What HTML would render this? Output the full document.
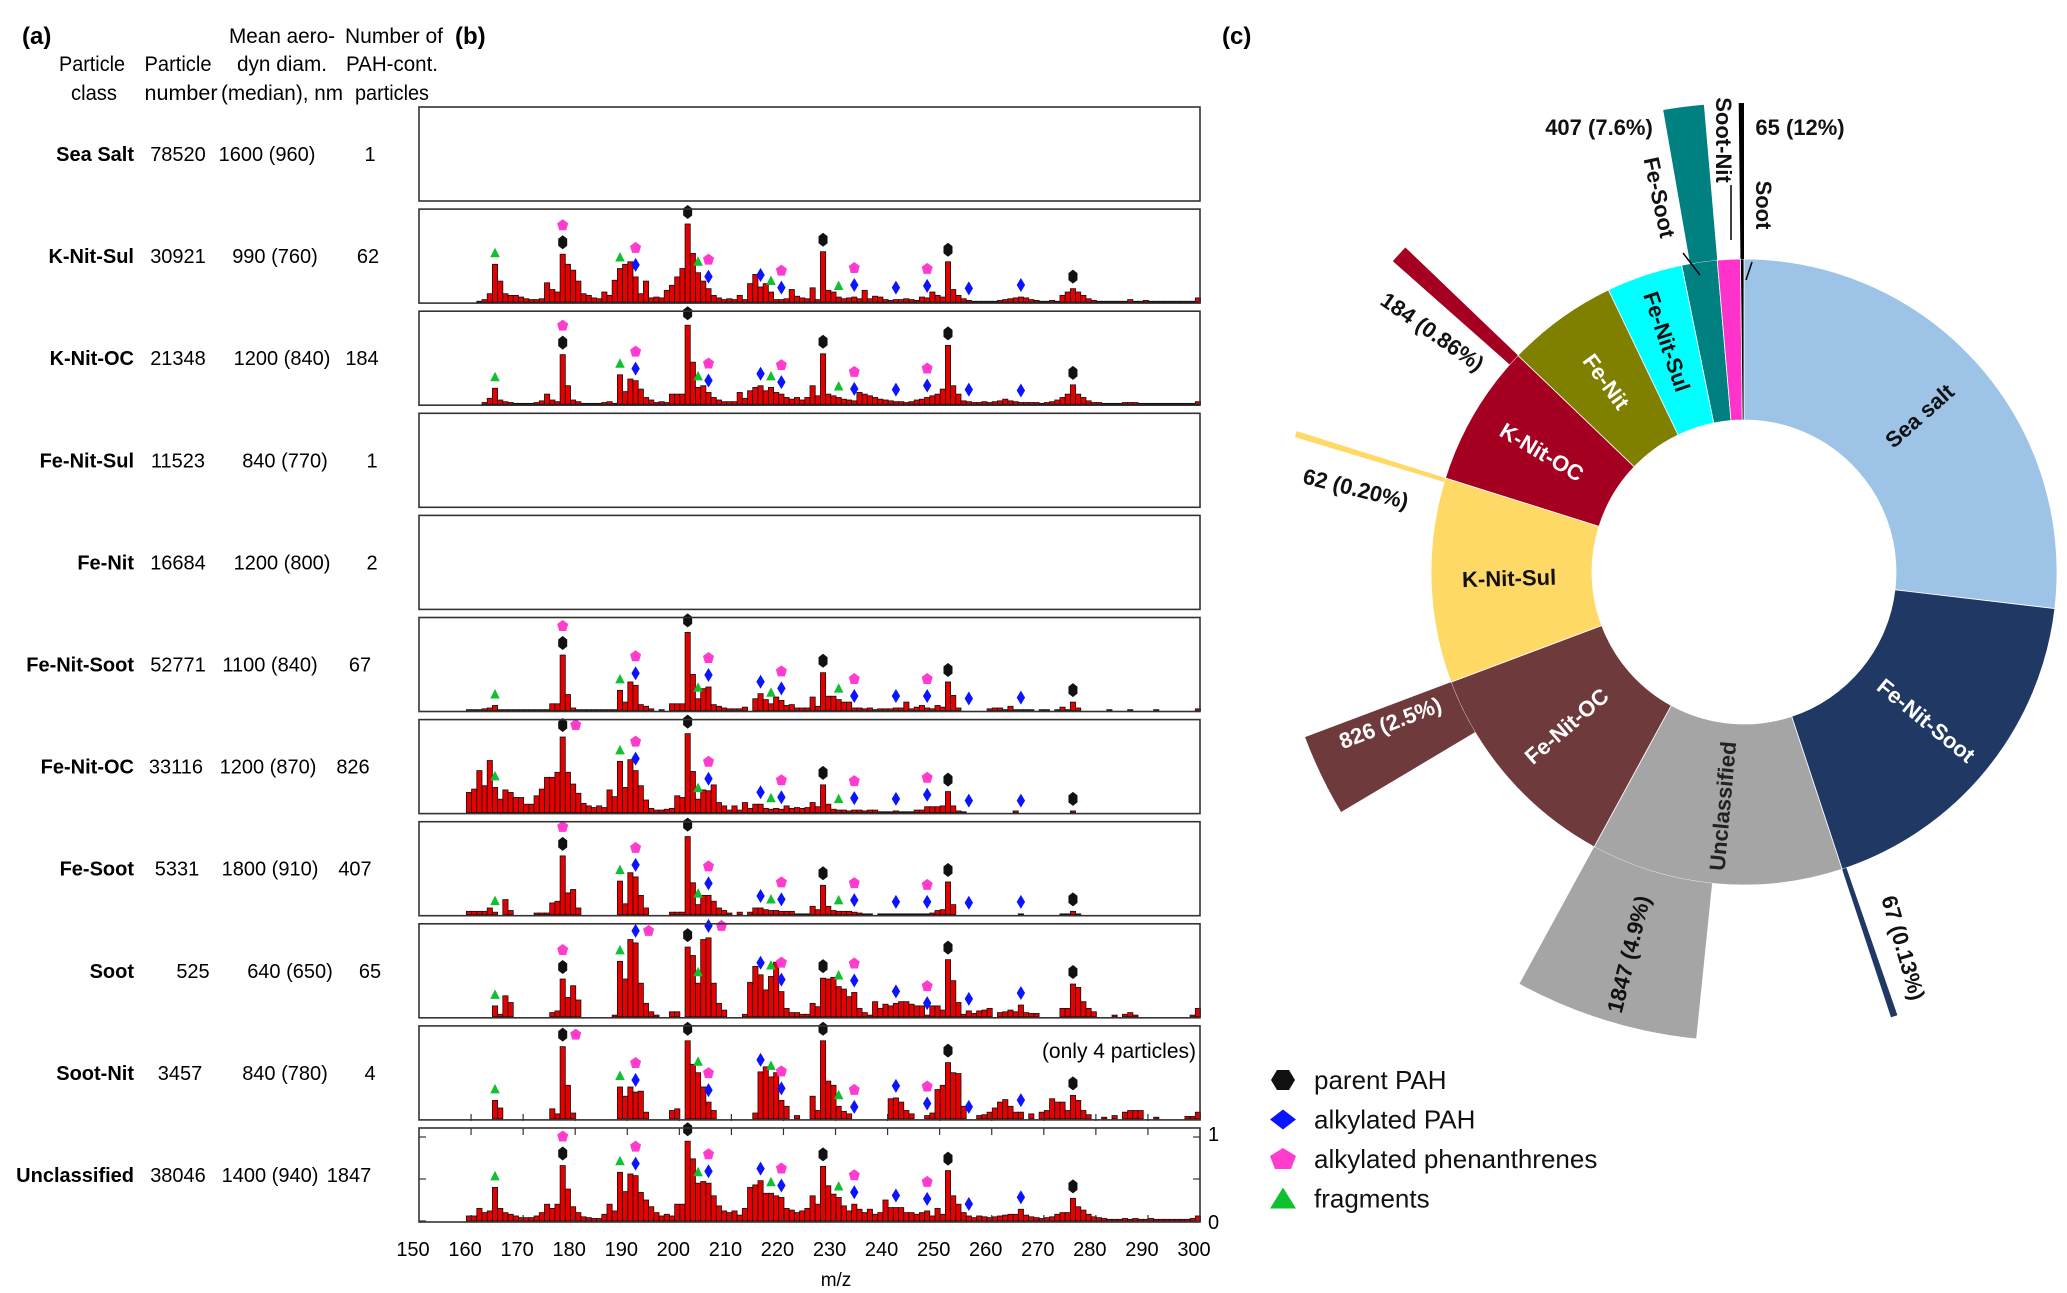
<!DOCTYPE html>
<html><head><meta charset="utf-8"><title>PAH particle classes</title>
<style>
html,body{margin:0;padding:0;background:#fff;}
svg{display:block;font-family:"Liberation Sans",Arial,sans-serif;}
</style></head>
<body>
<svg id="fig" width="2067" height="1293" viewBox="0 0 2067 1293" xmlns="http://www.w3.org/2000/svg">
<rect width="2067" height="1293" fill="#fff"/>
<text x="22" y="44" font-size="24" font-weight="bold">(a)</text>
<text x="455" y="44" font-size="24" font-weight="bold">(b)</text>
<text x="1222" y="44" font-size="24" font-weight="bold">(c)</text>
<g font-size="21" text-anchor="middle">
<text x="92" y="71" textLength="66" lengthAdjust="spacingAndGlyphs">Particle</text>
<text x="94" y="100" textLength="46" lengthAdjust="spacingAndGlyphs">class</text>
<text x="178" y="71" textLength="67" lengthAdjust="spacingAndGlyphs">Particle</text>
<text x="181" y="100" textLength="73" lengthAdjust="spacingAndGlyphs">number</text>
<text x="282" y="43" textLength="106" lengthAdjust="spacingAndGlyphs">Mean aero-</text>
<text x="282" y="71" textLength="90" lengthAdjust="spacingAndGlyphs">dyn diam.</text>
<text x="282" y="100" textLength="122" lengthAdjust="spacingAndGlyphs">(median), nm</text>
<text x="394" y="43" textLength="98" lengthAdjust="spacingAndGlyphs">Number of</text>
<text x="392" y="71" textLength="92" lengthAdjust="spacingAndGlyphs">PAH-cont.</text>
<text x="392" y="100" textLength="74" lengthAdjust="spacingAndGlyphs">particles</text>
</g>
<g id="table"></g>
<g id="spectra"></g>
<g id="pie"></g>
<g font-size="22" font-weight="bold" fill="#111">
<text x="1599" y="135" text-anchor="middle">407 (7.6%)</text>
<text x="1800" y="135" text-anchor="middle">65 (12%)</text>
<text transform="translate(1652,199) rotate(78)" text-anchor="middle">Fe-Soot</text>
<text transform="translate(1716,140) rotate(90)" text-anchor="middle">Soot-Nit</text>
<text transform="translate(1756,205) rotate(90)" text-anchor="middle">Soot</text>
<text transform="translate(1428,338) rotate(35)" text-anchor="middle">184 (0.86%)</text>
<text transform="translate(1354,496) rotate(14)" text-anchor="middle">62 (0.20%)</text>
<text fill="#fff" transform="translate(1393,730) rotate(-21)" text-anchor="middle">826 (2.5%)</text>
<text transform="translate(1636,956) rotate(-76)" text-anchor="middle">1847 (4.9%)</text>
<text transform="translate(1896,950) rotate(74)" text-anchor="middle">67 (0.13%)</text>
<line x1="1683" y1="253" x2="1700" y2="275" stroke="#000" stroke-width="1.5"/>
<line x1="1731" y1="185" x2="1731" y2="240" stroke="#000" stroke-width="1.5"/>
<line x1="1752" y1="262" x2="1746" y2="280" stroke="#000" stroke-width="1.5"/>
</g>
<g id="legend" font-size="26"></g>
</svg>
<script>
// ---------- data ----------
const classNames = ['Sea Salt','K-Nit-Sul','K-Nit-OC','Fe-Nit-Sul','Fe-Nit','Fe-Nit-Soot','Fe-Nit-OC','Fe-Soot','Soot','Soot-Nit','Unclassified'];
const particleNumbers = ['78520','30921','21348','11523','16684','52771','33116','5331','525','3457','38046'];
const diameters = ['1600 (960)','990 (760)','1200 (840)','840 (770)','1200 (800)','1100 (840)','1200 (870)','1800 (910)','640 (650)','840 (780)','1400 (940)'];
const pahContaining = ['1','62','184','1','2','67','826','407','65','4','1847'];
const mzStart = 160;
const xTicks = [150,160,170,180,190,200,210,220,230,240,250,260,270,280,290,300];
const yTickLabels = ['0','1'];
const spSeaSalt = [];
const spKNitSul = [0,0,1,3,10,45,25,10,8,8, 6,4,3,3,4,23,15,12,57,45, 38,25,10,8,5,4,12,8,26,40, 45,48,30,10,25,5,6,5,14,20, 30,40,93,58,35,25,16,8,5,3, 4,3,8,3,22,33,18,22,12,3, 3,4,15,7,5,4,17,3,60,14, 12,6,4,5,6,4,14,4,7,6, 3,2,3,3,4,3,2,6,5,12, 8,6,48,15,8,4,2,1,1,1, 1,1,2,3,4,5,6,5,3,2, 1,1,2,1,8,12,16,12,8,4, 2,1,1,1,1,1,1,3,1,1, 2,1,1,1,1,1,1,1,1,1, 5];
const spKNitOC = [0,0,0,2,7,19,5,3,2,1, 1,1,1,2,4,12,5,3,59,22, 5,3,1,1,1,1,2,3,1,35, 15,30,28,18,8,5,2,3,2,12, 12,12,94,50,20,22,14,8,5,3, 3,3,14,7,16,20,22,16,20,14, 12,8,6,8,5,8,22,10,60,12, 10,8,6,5,4,14,12,10,8,6, 5,4,3,3,2,3,5,6,8,10, 12,18,70,22,12,4,3,2,2,3, 2,3,4,6,4,3,2,2,2,2, 1,2,3,5,8,12,23,12,8,4, 2,2,1,1,1,1,2,2,2,1, 1,1,1,1,1,1,1,1,1,1, 3];
const spFeNitSul = [];
const spFeNit = [];
const spFeNitSoot = [1,1,1,2,3,6,1,1,1,1, 1,1,1,1,1,1,8,8,66,19, 3,1,1,1,1,1,1,1,1,24, 10,34,30,7,5,2,0,1,0,8, 8,8,93,43,14,26,28,7,5,3, 2,2,2,4,0,14,20,13,8,16, 12,6,7,3,3,3,16,5,45,17, 17,13,10,10,3,3,2,3,1,2, 2,2,3,3,10,2,4,6,3,2, 6,4,34,18,3,0,0,0,0,0, 2,3,3,1,5,1,1,1,1,0, 1,1,0,1,4,1,10,3,0,0, 0,0,0,1,0,0,0,1,0,0, 0,0,1,0,0,0,0,0,0,0, 2];
const spFeNitOC = [24,28,50,32,62,30,16,27,24,18, 18,10,10,20,28,42,42,48,90,48, 34,23,11,8,6,8,6,27,19,61, 30,63,50,32,15,5,3,3,4,5, 20,18,94,49,16,27,26,33,12,8, 3,8,3,12,5,10,10,5,4,5, 4,8,5,6,5,6,12,7,33,10, 4,3,3,2,3,3,2,3,3,1, 1,1,2,1,1,1,3,3,7,7, 7,8,25,8,2,1,0,0,0,0, 0,0,0,0,0,2,0,0,0,0, 0,0,0,0,0,0,2,0,0,0, 0,0,0,0,0,0,0,0,0,0, 0,0,0,0,0,0,0,0,0,0, 0];
const spFeSoot = [4,4,4,4,8,3,0,18,5,0, 0,0,0,2,2,2,14,16,70,26, 30,8,0,0,0,0,0,0,0,40, 13,50,45,23,8,0,0,0,0,3, 3,3,93,38,12,23,23,16,8,5, 2,0,3,0,3,8,8,6,5,5, 4,4,4,1,1,1,10,6,35,10, 5,4,4,4,3,2,1,1,0,1, 1,1,1,1,1,1,1,1,1,2, 5,6,39,12,0,0,0,0,0,0, 0,0,0,0,0,0,1,0,0,0, 0,0,0,0,1,1,4,1,0,0, 0,0,0,0,0,0,0,0,0,0, 0,0,0,0,0,0,0,0,0,0, 0];
const spSoot = [0,0,0,0,0,13,3,25,17,0, 0,0,0,0,0,0,5,7,45,23, 37,20,0,0,0,0,0,0,2,66, 45,92,88,40,16,6,2,0,0,6, 6,0,83,73,40,92,94,40,16,8, 0,0,0,3,41,60,50,32,48,65, 30,10,5,5,3,3,16,12,46,45, 47,36,33,24,29,10,5,2,18,10, 15,13,16,18,18,15,13,13,2,13, 13,8,68,43,17,3,7,4,7,8, 10,0,5,6,8,6,14,5,4,4, 0,0,0,0,10,10,39,35,18,10, 6,0,0,0,2,0,3,5,2,0, 0,0,0,0,0,0,0,0,0,2, 10];
const spSootNit = [0,0,0,0,0,22,13,0,0,0, 0,0,0,0,0,0,12,6,86,40, 7,0,0,0,0,0,0,0,0,38, 27,38,32,33,8,0,0,0,0,10, 12,0,93,65,55,38,20,10,0,0, 0,0,0,0,0,7,56,62,50,55, 22,15,0,4,0,0,27,10,93,45, 40,15,9,6,0,0,0,0,0,0, 0,24,25,20,10,6,0,0,4,7, 35,40,67,55,54,15,0,0,4,5, 8,13,20,23,15,8,8,0,6,0, 8,10,24,20,20,10,28,22,10,5, 0,0,2,0,4,0,8,10,10,10, 0,0,2,0,0,0,0,0,3,3, 8];
const spUnclassified = [6,6,15,10,12,40,15,10,8,6, 4,4,4,6,10,20,15,20,66,38, 17,10,5,4,3,3,8,20,12,58, 35,56,54,34,25,17,10,6,8,6, 20,20,95,74,45,47,45,30,18,12, 10,12,7,15,40,43,48,33,33,30, 28,15,13,10,12,15,30,20,65,42, 32,28,18,12,20,14,10,14,8,10, 25,16,16,16,10,10,8,10,12,6, 15,8,60,30,20,10,6,4,6,5, 4,5,6,7,8,8,14,7,5,4, 3,4,5,8,10,10,27,17,13,8, 5,4,3,2,2,2,3,2,3,2, 2,3,2,2,2,2,2,2,2,3, 6];
const parentMz = [178,202,228,252,276];
const alkylMz = [192,206,216,220,234,242,248,256,266];
const phenMz = [178,192,206,220,234,248];
const fragMz = [165,189,204,218,231];
// donut
const pieClasses = ['Sea salt','Fe-Nit-Soot','Unclassified','Fe-Nit-OC','K-Nit-Sul','K-Nit-OC','Fe-Nit','Fe-Nit-Sul','Fe-Soot','Soot-Nit','Soot'];
const pieCounts = [78520,52771,38046,33116,30921,21348,16684,11523,5331,3457,525];
const piePah = [1,67,1847,826,62,184,2,1,407,4,65];

// ---------- styles ----------
const NS='http://www.w3.org/2000/svg';
const spectraList=[spSeaSalt,spKNitSul,spKNitOC,spFeNitSul,spFeNit,spFeNitSoot,spFeNitOC,spFeSoot,spSoot,spSootNit,spUnclassified];
const panelLeft=419, panelRight=1200, panelH=94, panelTop0=107, panelStep=102.1;
const pieColors=['#9dc3e6','#1f3864','#a5a5a5','#6f3a3b','#ffd966','#a50021','#7f7f00','#00ffff','#008080','#ff33cc','#000000'];
const pieTextColors=['#111','#fff','#222','#fff','#111','#fff','#fff','#111'];
const numX=[178,178,178,178,178,178,176,177,193,180,178];
const diamX=[267,275,282,285,282,270,268,270,290,285,270];
const countX=[370,368,362,372,372,360,353,355,370,370,349];

function mk(tag,attrs,parent){const e=document.createElementNS(NS,tag);for(const k in attrs)e.setAttribute(k,attrs[k]);parent.appendChild(e);return e;}
function xs(mz){return panelLeft+(mz-150)*(panelRight-panelLeft)/150;}
function ys(v,top){return top+panelH-1-v*84;}

// ---------- table ----------
const table=document.getElementById('table');
classNames.forEach((c,i)=>{
  const y=panelTop0+i*panelStep+54;
  const t1=mk('text',{x:134,y:y,'text-anchor':'end','font-size':20,'font-weight':'bold'},table);
  
  
  t1.textContent=c;
  const t2=mk('text',{x:numX[i],y:y,'text-anchor':'middle','font-size':20},table);
  
  
  t2.textContent=particleNumbers[i];
  const t3=mk('text',{x:diamX[i],y:y,'text-anchor':'middle','font-size':20},table);
  
  
  t3.textContent=diameters[i];
  const t4=mk('text',{x:countX[i],y:y,'text-anchor':'middle','font-size':20},table);
  
  
  t4.textContent=pahContaining[i];
});

// ---------- spectra ----------
const sp=document.getElementById('spectra');
function valAt(arr,mz){const i=Math.round(mz)-mzStart;return (i>=0&&i<arr.length)?arr[i]/100:0;}
function drawMarker(g,type,x,y){
  let e;
  if(type==='parent'){e=mk('polygon',{points:`${x},${y-7} ${x+4.5},${y-3.5} ${x+4.5},${y+3.5} ${x},${y+7} ${x-4.5},${y+3.5} ${x-4.5},${y-3.5}`,fill:'#111'},g);}
  else if(type==='alkyl'){e=mk('polygon',{points:`${x},${y-7} ${x+4.2},${y} ${x},${y+7} ${x-4.2},${y}`,fill:'#0a14ff'},g);}
  else if(type==='phen'){e=mk('polygon',{points:`${x},${y-6} ${x+5.5},${y-2} ${x+3.5},${y+5} ${x-3.5},${y+5} ${x-5.5},${y-2}`,fill:'#ff3ccd'},g);}
  else {e=mk('polygon',{points:`${x},${y-5.5} ${x+4.8},${y+4} ${x-4.8},${y+4}`,fill:'#10c030'},g);}
  
  
}
spectraList.forEach((arr,p)=>{
  const top=panelTop0+p*panelStep;
  const g=mk('g',{},sp);
  
  
  const bw=(panelRight-panelLeft)/150;
  arr.forEach((v,i)=>{
    if(v<=0)return;
    const mz=mzStart+i;
    const yt=ys(v/100,top);
    const r=mk('rect',{x:xs(mz-0.9),y:yt,width:bw,height:top+panelH-1-yt,fill:'#e60000',stroke:'#111','stroke-width':0.8},g);
    
    
  });
  if(arr.length){
    const lowerSet=new Set([...parentMz,...alkylMz,...fragMz]);
    parentMz.forEach(m=>drawMarker(g,'parent',xs(m-0.4),ys(valAt(arr,m),top)-12));
    alkylMz.forEach(m=>drawMarker(g,'alkyl',xs(m-0.4),ys(valAt(arr,m),top)-12));
    fragMz.forEach(m=>drawMarker(g,'frag',xs(m-0.4),ys(valAt(arr,m),top)-11));
    phenMz.forEach(m=>{
      const base=ys(valAt(arr,m),top);
      if(lowerSet.has(m)){
        if(base-29<top-1) drawMarker(g,'phen',xs(m+2.1),base-12);
        else drawMarker(g,'phen',xs(m-0.4),base-29);
      } else drawMarker(g,'phen',xs(m-0.4),base-12);
    });
  }
  const fr=mk('rect',{x:panelLeft,y:top,width:panelRight-panelLeft,height:panelH,fill:'none',stroke:'#333','stroke-width':1.6},g);
  
  
});
// axes on last panel
const lastTop=panelTop0+10*panelStep;
const ax=mk('g',{},sp);


xTicks.forEach(t=>{
  const x=xs(t);
  if(t>150&&t<300){
    mk('line',{x1:x,y1:lastTop,x2:x,y2:lastTop+7,stroke:'#333','stroke-width':1.2},ax);
    mk('line',{x1:x,y1:lastTop+panelH,x2:x,y2:lastTop+panelH-7,stroke:'#333','stroke-width':1.2},ax);
    mk('line',{x1:x,y1:lastTop-7,x2:x,y2:lastTop-14,stroke:'#333','stroke-width':1.2},ax);
  }
  const tl=mk('text',{x:x-6,y:1256,'text-anchor':'middle','font-size':20},ax);
  
  
  tl.textContent=String(t);
});
const mzl=mk('text',{x:836,y:1286,'text-anchor':'middle','font-size':19},ax);


mzl.textContent='m/z';
const yax=mk('g',{},sp);


[0,0.5,1].forEach(v=>{
  const y=ys(v,lastTop);
  mk('line',{x1:panelRight,y1:y,x2:panelRight-7,y2:y,stroke:'#333','stroke-width':1.2},yax);
  mk('line',{x1:panelLeft,y1:y,x2:panelLeft+7,y2:y,stroke:'#333','stroke-width':1.2},yax);
});
yTickLabels.forEach((s,i)=>{
  const y=ys(i,lastTop);
  const t=mk('text',{x:1208,y:y+(i?4:8),'font-size':20},yax);
  
  
  t.textContent=s;
});
const note=mk('text',{x:1196,y:lastTop-panelStep+32,'text-anchor':'end','font-size':21},sp);


note.textContent='(only 4 particles)';

// ---------- donut ----------
const pie=document.getElementById('pie');
const cx=1744, cy=572, rIn=152, rOut=313, rExt=469;
function pt(a,r){const t=a*Math.PI/180;return [cx+r*Math.sin(t),cy-r*Math.cos(t)];}
function sector(a0,a1,r0,r1){
  const L=(a1-a0)>180?1:0;const p1=pt(a0,r1),p2=pt(a1,r1),p3=pt(a1,r0),p4=pt(a0,r0);
  return `M${p1[0]},${p1[1]} A${r1},${r1} 0 ${L} 1 ${p2[0]},${p2[1]} L${p3[0]},${p3[1]} A${r0},${r0} 0 ${L} 0 ${p4[0]},${p4[1]} Z`;
}
const total=pieCounts.reduce((a,b)=>a+b,0);
let acc=0;
pieCounts.forEach((c,i)=>{
  const a0=acc/total*360, a1=(acc+c)/total*360; acc+=c;
  const span=a1-a0;
  const s=mk('path',{d:sector(a0,a1,rIn,rOut),fill:pieColors[i],stroke:'#fff','stroke-width':0.8},pie);
  
  
  const frac=piePah[i]/c;
  const w=span*frac*10;
  if(frac>=0.00125){
    const e=mk('path',{d:sector(Math.max(a0,a1-w),a1,rOut,rExt),fill:pieColors[i]},pie);
    
    
  }
  if(i<8){
    const mid=(a0+a1)/2;
    const p=pt(mid,i===7?243:235);
    let rot=mid-90; if(mid>180) rot=mid-270;
    const t=mk('text',{x:0,y:0,transform:`translate(${p[0]},${p[1]}) rotate(${rot})`,'text-anchor':'middle','dominant-baseline':'central','font-size':22,'font-weight':'bold',fill:pieTextColors[i]},pie);
    
    
    t.textContent=pieClasses[i];
  }
});

// ---------- legend ----------
const lg=document.getElementById('legend');
const legendItems=[['parent','parent PAH'],['alkyl','alkylated PAH'],['phen','alkylated phenanthrenes'],['frag','fragments']];
legendItems.forEach((it,i)=>{
  const y=1080+i*39.5;
  const g=mk('g',{},lg);
  
  
  const x=1283;
  let pts;
  if(it[0]==='parent') pts=`${x-12},${y} ${x-6},${y-10} ${x+6},${y-10} ${x+12},${y} ${x+6},${y+10} ${x-6},${y+10}`;
  else if(it[0]==='alkyl') pts=`${x},${y-10} ${x+13},${y} ${x},${y+10} ${x-13},${y}`;
  else if(it[0]==='phen') pts=`${x},${y-11} ${x+13},${y-3} ${x+8},${y+10} ${x-8},${y+10} ${x-13},${y-3}`;
  else pts=`${x},${y-11} ${x+13},${y+10} ${x-13},${y+10}`;
  const col={parent:'#111',alkyl:'#0a14ff',phen:'#ff3ccd',frag:'#10c030'}[it[0]];
  mk('polygon',{points:pts,fill:col},g);
  const t=mk('text',{x:1314,y:y+9,fill:'#111'},g);
  t.textContent=it[1];
});
</script>
</body></html>
